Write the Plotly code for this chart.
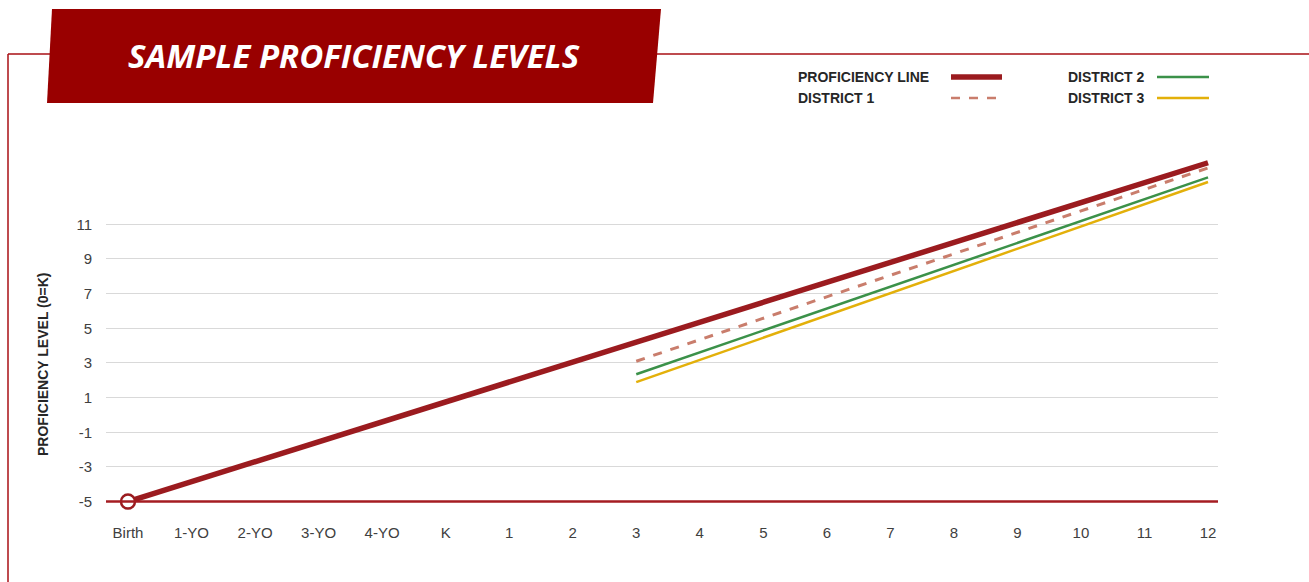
import plotly.graph_objects as go

# ---------------- data ----------------
categories = ["Birth", "1-YO", "2-YO", "3-YO", "4-YO", "K", "1", "2", "3", "4",
              "5", "6", "7", "8", "9", "10", "11", "12"]
proficiency = [-5.0, -3.85, -2.7, -1.55, -0.4, 0.75, 1.9, 3.05, 4.2, 5.35,
               6.5, 7.65, 8.8, 9.95, 11.1, 12.25, 13.4, 14.55]
district_cats = ["3", "4", "5", "6", "7", "8", "9", "10", "11", "12"]
district1 = [3.1, 4.34, 5.58, 6.82, 8.06, 9.3, 10.53, 11.77, 13.01, 14.25]
district2 = [2.35, 3.61, 4.87, 6.14, 7.4, 8.66, 9.92, 11.18, 12.45, 13.71]
district3 = [1.89, 3.17, 4.46, 5.74, 7.02, 8.31, 9.59, 10.87, 12.16, 13.44]
y_ticks = [-5, -3, -1, 1, 3, 5, 7, 9, 11]
y_tick_labels = ["-5", "-3", "-1", "1", "3", "5", "7", "9", "11"]
floor_value = -5

title_text = "SAMPLE PROFICIENCY LEVELS"
y_title = "PROFICIENCY LEVEL (0=K)"
legend_names = ["PROFICIENCY LINE", "DISTRICT 1", "DISTRICT 2", "DISTRICT 3"]

# ---------------- style ----------------
W, H = 1309, 582
PL, PR, PT, PB = 106, 1218, 152, 512
RED = "#9b1b1f"
D1C = "#c97d6c"
D2C = "#3b9149"
D3C = "#e3b00a"
BANNER = "#990000"
FRAME = "#a80f14"
SANS = "Liberation Sans, Arial, sans-serif"


def px(x):
    return (x - PL) / (PR - PL)


def py(y):
    return (PB - y) / (PB - PT)


fig = go.Figure()

# floor line at -5 drawn as a trace on an overlay axis so it sits above the grid
fig.add_trace(go.Scatter(x=[0, 1], y=[floor_value, floor_value], mode="lines",
                         xaxis="x2", line=dict(color="#a51c22", width=2.5),
                         hoverinfo="skip", showlegend=False))
fig.add_trace(go.Scatter(x=district_cats, y=district3, mode="lines",
                         line=dict(color=D3C, width=2.5), name=legend_names[3]))
fig.add_trace(go.Scatter(x=district_cats, y=district2, mode="lines",
                         line=dict(color=D2C, width=2.5), name=legend_names[2]))
fig.add_trace(go.Scatter(x=district_cats, y=district1, mode="lines",
                         line=dict(color=D1C, width=3, dash="dash"), name=legend_names[1]))
fig.add_trace(go.Scatter(x=categories, y=proficiency, mode="lines",
                         line=dict(color=RED, width=5.5), name=legend_names[0]))
fig.add_trace(go.Scatter(x=categories[:1], y=proficiency[:1], mode="markers",
                         marker=dict(size=14, color="white", line=dict(color=RED, width=2.5)),
                         cliponaxis=False, showlegend=False))

shapes = []
# frame lines
shapes.append(dict(type="line", xref="paper", yref="paper", x0=px(8), x1=px(W + 20),
                   y0=py(54), y1=py(54), line=dict(color=FRAME, width=1.5)))
shapes.append(dict(type="line", xref="paper", yref="paper", x0=px(8), x1=px(8),
                   y0=py(54), y1=py(H + 20), line=dict(color=FRAME, width=1.5)))
# title banner
path = "M {} {} L {} {} L {} {} L {} {} Z".format(
    px(52), py(9), px(661), py(9), px(653), py(103), px(47), py(103))
shapes.append(dict(type="path", xref="paper", yref="paper", path=path,
                   fillcolor=BANNER, line=dict(width=0)))
# legend swatches
leg = [
    (951, 1002, 77, RED, 5.5, "solid"),
    (951, 1002, 98, D1C, 2.5, "dash"),
    (1157, 1209, 77, D2C, 2.5, "solid"),
    (1157, 1209, 98, D3C, 2.5, "solid"),
]
for x0, x1, yy, c, w, d in leg:
    shapes.append(dict(type="line", xref="paper", yref="paper", x0=px(x0), x1=px(x1),
                       y0=py(yy), y1=py(yy), line=dict(color=c, width=w, dash=d)))

annotations = [
    dict(text="<b><i>" + title_text + "</i></b>", xref="paper", yref="paper",
         x=px(354), y=py(55), xanchor="center", yanchor="middle", showarrow=False,
         font=dict(family="Open Sans, Lato, sans-serif", size=33, color="white")),
    dict(text="<b>" + y_title + "</b>", xref="paper", yref="paper", x=px(43), y=py(365),
         xanchor="center", yanchor="middle", textangle=-90, showarrow=False,
         font=dict(family=SANS, size=14, color="#262626")),
]
leg_text = [(796, 77, legend_names[0]), (796, 98, legend_names[1]),
            (1066, 77, legend_names[2]), (1066, 98, legend_names[3])]
for x, yy, t in leg_text:
    annotations.append(dict(text="<b>" + t + "</b>", xref="paper", yref="paper",
                            x=px(x), y=py(yy), xanchor="left", yanchor="middle",
                            showarrow=False, font=dict(family=SANS, size=14, color="#262626")))

fig.update_layout(
    width=W, height=H,
    margin=dict(l=PL, r=W - PR, t=PT, b=H - PB, autoexpand=False),
    paper_bgcolor="white", plot_bgcolor="white",
    showlegend=False,
    shapes=shapes, annotations=annotations,
    xaxis=dict(type="category", categoryorder="array", categoryarray=categories,
               range=[-0.346, 17.157], showgrid=False, zeroline=False, showline=False,
               ticks="", ticklabelstandoff=10,
               tickfont=dict(family=SANS, size=15, color="#404040"), fixedrange=True),
    xaxis2=dict(overlaying="x", range=[0, 1], visible=False, fixedrange=True),
    yaxis=dict(range=[-5.6, 15.17], tickvals=y_ticks, ticktext=y_tick_labels,
               showgrid=True, gridcolor="#d9d9d9",
               gridwidth=1, zeroline=False, showline=False, ticks="", ticklabelstandoff=13,
               tickfont=dict(family=SANS, size=15, color="#404040"), fixedrange=True),
)

fig.write_html("out.html",
               config={"displayModeBar": False},
               post_script="document.body.style.margin='0';"
                           "document.body.style.overflow='hidden';")
